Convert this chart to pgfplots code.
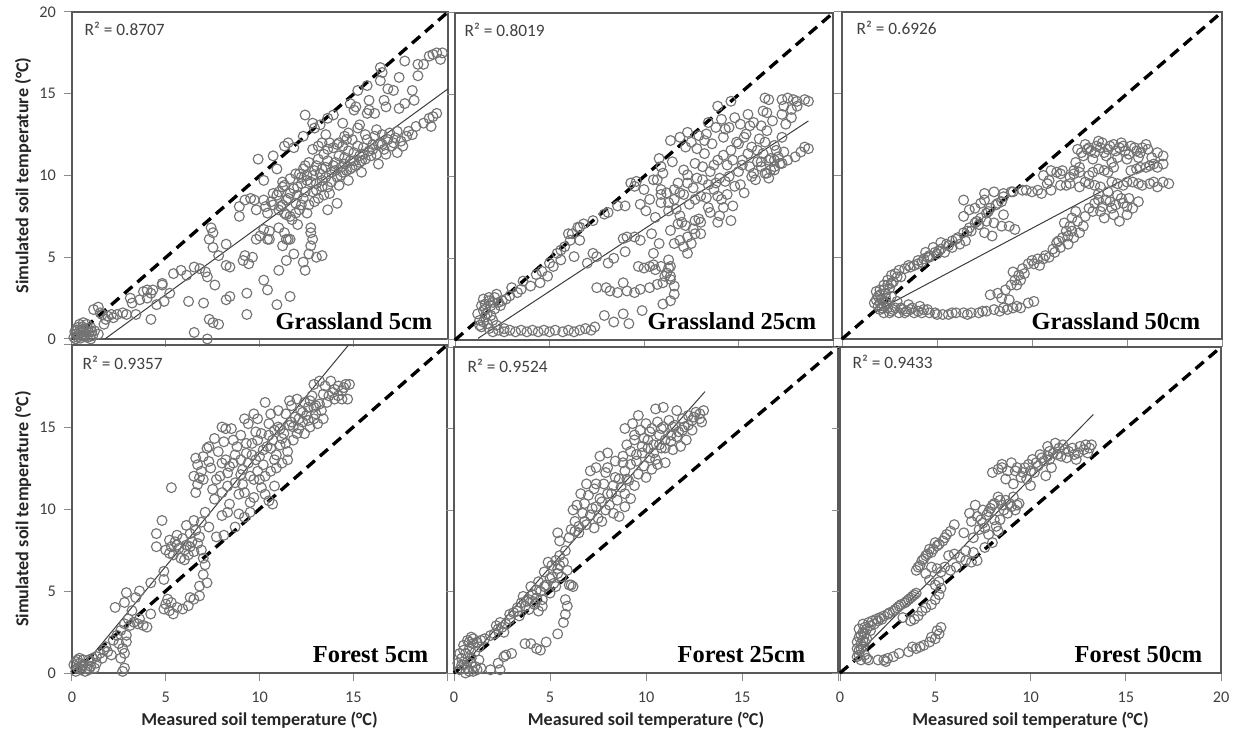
\documentclass[border=0pt]{standalone}
\usepackage{pgfplots}
\pgfplotsset{compat=1.18}
\usepackage{fontspec}
\setmainfont{Carlito}
\newfontfamily\tnr{Liberation Serif}

\definecolor{ptgray}{HTML}{737373}
\definecolor{framegray}{HTML}{595959}
\definecolor{tickgray}{HTML}{8C8C8C}
\definecolor{labgray}{HTML}{404040}
\definecolor{titlecol}{HTML}{262626}
\definecolor{fitcol}{HTML}{3C3C3C}

\tikzset{
  rsq/.style={anchor=base west, font=\fontsize{13}{15}\selectfont, text=labgray},
  site/.style={anchor=base east, font=\tnr\bfseries\fontsize{18.3}{20}\selectfont},
}

\pgfplotsset{
  panel/.style={
    scale only axis, anchor=north west,
    xmin=0, xmax=20, ymin=0, ymax=20,
    xtick={0,5,10,15,20}, ytick={0,5,10,15,20},
    xticklabels={}, yticklabels={},
    tick pos=left, tick align=outside,
    major tick length=6pt,
    every tick/.style={draw=tickgray, line width=0.75pt},
    axis line style={draw=framegray, line width=0.9pt},
    ticklabel style={font=\fontsize{12.2}{14}\selectfont, text=labgray},
    xticklabel style={yshift=-5pt},
    yticklabel style={xshift=-2.5pt},
    label style={font=\bfseries\fontsize{13.6}{16}\selectfont, text=titlecol},
    xlabel style={at={([yshift=-35.25pt]rel axis cs:0.5,0)}, anchor=center},
    ylabel style={at={([xshift=-36.75pt]rel axis cs:0,0.5)}, anchor=center},
    clip=false,
  },
  pts/.style={only marks, mark=o, mark size=3.7pt,
    mark options={draw=ptgray, line width=0.85pt}},
  oneone/.style={black, line width=2.5pt, dash pattern=on 8pt off 5pt},
  fit/.style={draw=fitcol, line width=0.75pt},
}

\begin{document}
\begin{tikzpicture}
\useasboundingbox (0pt,0pt) rectangle (932.25pt,-550.5pt);

% ---------------- Grassland 5cm ----------------
\begin{axis}[panel, at={(54pt,-9pt)}, width=282pt, height=245.25pt,
  yticklabels={0,5,10,15,20},
  ylabel={Simulated soil temperature (°C)}]
\addplot[pts] coordinates {
(0.1,0.1) (0.2,0.3) (0.3,0.1) (0.4,0.5) (0.5,0.2) (0.6,0.6) (0.7,0.3) (0.8,0.1) (0.9,0.4) (1.0,0.7)
(0.4,0.9) (0.6,1.0) (1.1,0.2) (1.2,0.5) (0.3,0.7) (0.8,0.9) (1.4,0.3) (0.2,0.0) (1.0,0.0) (0.5,0.4)
(0.15,0.45) (0.35,0.25) (0.55,0.75) (0.75,0.55) (0.95,0.15) (0.25,0.55) (0.65,0.15) (1.05,0.45) (0.45,0.05) (0.85,0.65)
(1.15,1.8) (1.4,1.95) (1.5,1.6) (1.6,1.5) (1.9,1.4) (2.1,1.5) (2.4,1.5) (2.7,1.6) (2.9,1.5) (1.8,1.2) (2.2,1.3) (1.7,0.9)
(3.1,2.5) (3.2,2.2) (3.4,1.5) (3.6,2.4) (3.8,2.9) (4.0,3.0) (4.2,2.8) (4.3,3.0) (4.0,2.5) (4.5,2.1) (4.8,3.3) (4.8,3.4) (4.9,2.3) (4.2,1.2) (5.2,2.8)
(5.4,4.0) (5.8,4.2) (6.1,3.9) (6.5,4.4) (6.8,4.3) (7.1,4.1) (7.2,3.8) (6.2,2.3) (7.0,2.2) (6.5,0.4) (7.2,0.0) (7.3,1.2) (7.5,1.0) (7.8,0.9) (7.6,3.3)
(7.4,6.8) (7.5,6.5) (7.3,6.1) (7.5,5.6) (7.8,5.1) (8.2,5.8) (8.2,4.5) (8.4,4.4) (8.2,2.4) (8.4,2.6) (9.3,2.8) (9.3,1.5) (9.2,5.1) (9.1,4.8) (9.4,4.6) (9.6,5.0)
(8.9,8.1) (8.9,7.5) (9.2,8.5) (9.5,8.6) (9.8,7.9) (9.7,8.5) (10.2,8.5) (10.3,8.1) (9.8,6.1) (10.0,6.3) (10.4,6.1) (10.2,6.7) (9.9,11.0) (10.2,9.7) (10.7,11.2) (10.9,10.4)
(10.2,3.6) (10.4,3.0) (10.9,2.1) (11.6,2.6) (11.0,4.2) (11.4,4.8) (11.5,6.1) (11.2,5.7) (11.0,6.8) (11.0,9.0) (11.2,9.6) (11.3,11.8) (11.5,12.0) (11.8,11.7)
(12.3,12.4) (12.4,13.7) (12.8,13.2) (12.9,12.9) (13.2,13.1) (13.6,13.5) (13.9,13.7) (13.5,12.5) (13.7,12.0) (14.1,11.9) (14.6,12.2)
(15.0,14.0) (15.1,14.2) (15.2,15.2) (14.8,14.4) (14.4,13.2) (15.3,13.1) (15.7,13.8) (15.8,14.6) (15.8,14.0) (16.1,13.8) (15.7,15.5) (16.4,16.6) (16.5,16.3) (16.4,15.8)
(16.8,15.3) (17.1,15.2) (17.4,16.0) (17.7,17.0) (18.1,15.2) (18.4,16.8) (18.4,16.1) (18.7,16.8) (19.0,17.3) (19.2,17.4) (19.6,17.1) (19.7,17.5) (19.4,17.5)
(18.2,14.6) (17.7,14.4) (17.4,14.1) (16.6,14.6) (16.7,14.2)
(17.1,12.0) (17.6,11.8) (17.8,12.4) (18.1,12.5) (18.3,13.0) (18.7,13.2) (19.0,13.5) (19.2,13.6) (19.4,13.8) (19.1,13.0) (17.9,12.7) (17.3,12.7)
(11.5,8.6) (11.8,9.2) (12.0,8.8) (12.2,9.5) (12.4,9.0) (12.5,10.0) (12.7,9.6) (12.9,10.3) (13.0,9.1) (13.2,10.1) (13.3,9.7) (13.5,10.5) (13.6,9.3) (13.8,10.2)
(14.0,10.8) (14.1,9.9) (14.3,10.5) (14.5,11.1) (14.6,10.3) (14.8,10.9) (15.0,11.4) (15.1,10.6) (15.3,11.2) (15.5,11.7) (15.6,11.0) (15.8,11.5) (16.0,11.9) (16.2,11.3)
(16.4,12.0) (16.6,11.6) (16.8,12.2) (17.0,11.8) (11.9,10.1) (12.3,10.4) (12.6,10.8) (13.1,11.0) (13.4,11.3) (12.1,7.9) (12.6,8.2) (13.1,8.6) (13.7,8.9) (14.2,9.4)
(14.7,9.7) (11.2,8.2) (11.4,7.6) (11.7,7.3) (12.0,7.0) (12.5,7.7) (11.0,7.9) (13.4,8.8) (15.4,10.2) (16.3,10.7) (17.3,11.4) (11.6,9.8) (13.9,11.7) (14.4,11.8)
(14.9,12.2) (12.8,11.6) (13.3,12.0) (10.9,8.8) (10.6,8.4) (11.3,9.4) (13.6,7.9) (14.1,8.3)
(12.2,9.9) (12.4,10.6) (12.8,10.0) (13.0,10.6) (13.3,10.4) (13.6,10.9) (13.9,10.6) (14.2,11.2) (14.4,10.2) (14.7,11.5) (14.9,10.5) (15.2,11.8) (15.4,10.9) (15.7,12.2)
(15.9,11.2) (16.1,12.4) (16.3,11.9) (16.5,12.5) (16.7,11.3) (16.9,12.6) (17.2,12.3) (17.5,12.1) (13.0,9.5) (13.5,9.9) (14.0,10.3) (14.5,10.7) (15.0,10.9) (15.5,11.3)
(16.0,11.6) (16.5,11.9) (12.0,9.3) (11.6,8.9) (11.9,8.3) (12.3,8.6) (12.8,9.0) (13.3,9.3) (13.8,9.6) (14.3,10.0) (14.8,10.4) (15.3,10.8) (13.6,11.6) (14.2,12.0)
(14.7,12.6) (15.2,12.9) (15.6,12.5) (16.2,12.8) (12.9,8.4) (12.2,8.2) (14.5,12.4) (13.1,11.8)
(12.4,4.2) (12.3,4.7) (12.6,5.2) (12.7,5.7) (13.0,5.0) (13.3,5.1) (12.8,6.1) (12.7,6.5) (12.7,6.8) (11.6,6.1) (11.8,5.2) (11.4,6.1) (11.3,6.5)
(10.7,8.9) (11.2,9.3) (11.4,8.5) (11.1,8.1) (11.3,7.7) (11.6,7.5) (11.9,7.7) (10.5,6.6) (10.5,6.1) (10.7,8.2) (10.4,7.7) (12.1,10.1) (12.5,9.7)
};
\addplot[fit] coordinates {(1.75,0) (20,15.3)};
\addplot[oneone] coordinates {(0,0) (20,20)};
\node[rsq] at ([xshift=6pt,yshift=-18pt]rel axis cs:0,1) {R² = 0.8707};
\node[site] at ([xshift=-8.25pt,yshift=6.75pt]rel axis cs:1,0) {Grassland 5cm};
\end{axis}

% ---------------- Grassland 25cm ----------------
\begin{axis}[panel, at={(341.25pt,-9.75pt)}, width=283.5pt, height=245.25pt]
\addplot[pts] coordinates {
(1.3,1.2) (1.5,1.8) (1.6,2.2) (1.8,2.4) (2.0,2.3) (1.4,0.8) (1.7,1.0) (1.9,1.5) (2.1,1.9) (2.3,2.3) (1.5,2.5) (1.8,2.6) (2.5,2.4) (2.7,2.5) (1.2,1.6) (2.2,2.8) (1.6,1.4) (1.4,2.1)
(1.6,1.9) (1.9,2.1) (1.7,1.6) (2.0,1.2) (1.5,1.1) (1.3,0.9) (2.4,2.1) (2.1,2.6)
(2.0,0.5) (2.3,0.6) (2.6,0.5) (2.9,0.6) (3.2,0.5) (3.5,0.6) (3.8,0.5) (4.1,0.6) (4.4,0.5) (4.7,0.6) (5.0,0.5) (5.3,0.6) (5.7,0.5) (6.0,0.6) (6.3,0.5) (6.6,0.6) (6.9,0.7) (7.2,0.6) (7.4,0.8) (1.8,0.7) (2.2,0.9) (2.6,0.7)
(7.9,1.5) (8.9,1.6) (8.4,1.1) (9.2,1.0) (9.9,1.8) (11.0,2.2) (11.4,2.4) (11.6,2.8) (11.6,3.3) (11.4,3.7) (11.2,4.1) (11.4,4.5) (11.3,4.9)
(7.5,3.2) (8.0,3.2) (8.6,2.9) (9.1,3.0) (9.5,2.9) (9.8,3.1) (10.3,3.2) (10.7,3.4) (11.0,3.5) (8.9,3.5) (8.2,3.0)
(9.7,4.5) (10.0,4.4) (10.3,4.5) (10.5,4.6) (10.6,4.3) (10.9,4.5) (11.1,3.9) (11.3,4.4) (11.4,3.9)
(5.0,4.7) (5.4,5.3) (5.8,5.7) (6.2,6.5) (6.6,6.9) (7.3,7.3) (7.9,7.7) (8.6,8.2) (5.2,4.5) (5.6,4.9) (6.1,6.1) (6.3,5.1) (7.0,4.7) (7.3,5.3) (7.5,5.1) (8.1,4.7) (8.4,5.0)
(9.0,5.4) (9.1,6.3) (9.5,6.3) (9.8,6.1) (10.4,6.5) (10.8,5.9) (10.5,5.3) (11.9,6.1) (12.3,6.3) (12.7,6.5) (13.0,6.5) (12.3,5.3) (11.6,5.9) (12.1,5.7) (12.5,5.9)
(3.5,3.1) (4.0,3.3) (4.5,3.5) (4.9,3.9) (3.6,3.6) (4.3,4.0) (3.3,2.9) (2.9,2.7) (3.0,3.2) (4.6,4.2)
(5.6,5.5) (6.0,6.5) (6.5,6.9) (6.8,7.1) (8.1,7.8) (9.0,8.2) (9.5,9.4) (10.0,9.2) (10.5,9.8) (10.9,10.6) (11.4,12.2) (11.9,12.4) (12.3,12.7) (13.4,13.3) (13.9,14.3) (14.6,14.6)
(10.6,7.5) (10.9,8.4) (11.2,9.0) (11.3,7.9) (11.6,8.6) (11.8,9.6) (11.9,7.6) (12.1,8.9) (12.3,10.1) (12.4,8.3) (12.6,9.3) (12.7,10.8) (12.9,7.4) (13.0,8.8) (13.1,9.8)
(13.2,11.4) (13.4,8.1) (13.5,10.3) (13.6,12.0) (13.7,9.2) (13.9,11.0) (14.0,7.6) (14.1,8.6) (14.2,12.4) (14.3,9.7) (14.4,10.7) (14.5,13.0) (14.6,11.6) (14.7,8.2)
(14.8,9.4) (14.9,12.1) (15.0,10.3) (15.1,13.2) (15.2,11.0) (15.3,9.0) (15.4,12.6) (15.6,10.6) (15.7,11.8) (15.8,13.3) (15.9,9.8) (16.0,10.9) (16.1,12.3) (16.3,11.4)
(16.4,10.2) (16.5,12.8) (16.6,9.9) (16.7,11.1) (16.9,10.6) (17.0,11.6) (17.2,10.8) (17.4,11.5) (13.3,12.6) (12.2,11.8) (12.5,12.1) (11.0,10.2) (10.8,11.1) (12.8,11.7)
(13.8,13.0) (14.1,13.5) (15.5,13.8) (16.2,13.1) (11.5,10.9) (10.3,8.6) (10.1,7.9) (9.8,8.3) (11.7,8.0) (12.0,7.2) (13.0,7.2) (12.6,6.8)
(12.8,9.9) (13.1,10.6) (13.4,9.5) (13.7,10.7) (14.0,9.9) (14.2,11.3) (14.5,10.0) (14.7,11.0) (15.0,12.0) (15.2,10.7) (15.5,11.4) (15.7,10.0) (16.0,11.6) (16.2,10.9)
(16.4,12.1) (16.7,10.4) (16.9,11.9) (17.1,11.2) (17.3,12.4) (13.3,8.7) (13.8,9.6) (14.4,8.9) (15.1,9.5) (12.3,9.6) (11.9,9.0) (12.7,8.6) (14.3,12.9) (14.8,13.6)
(15.3,12.4) (15.6,13.1) (13.2,12.2) (12.9,12.5) (17.5,13.2) (17.8,13.6) (16.8,13.4) (16.3,14.0) (11.3,8.4) (11.6,9.2) (12.1,10.4) (10.9,8.9)
(16.4,14.8) (16.6,14.7) (17.3,14.7) (17.6,14.8) (17.9,14.7) (18.1,14.6) (18.5,14.7) (18.7,14.6) (17.4,14.3) (17.8,14.1) (17.3,13.8) (18.1,14.3) (16.5,13.9)
(18.5,11.8) (18.7,11.7) (18.3,11.5) (18.0,11.2) (17.6,11.0) (17.3,10.8) (16.9,11.0) (16.6,11.0) (16.2,10.6) (15.8,10.2) (16.9,10.4) (16.5,10.2)
(10.7,9.8) (10.9,9.2) (9.3,9.6) (9.6,9.7) (11.4,6.7) (11.8,7.1) (12.2,7.0) (12.7,7.3) (13.5,7.8) (13.9,8.8) (14.2,8.1) (14.6,7.3) (13.9,7.2) (6.6,6.1) (8.9,6.2)
};
\addplot[fit] coordinates {(1.22,0.1) (18.7,13.4)};
\addplot[oneone] coordinates {(0,0) (20,20)};
\node[rsq] at ([xshift=3.75pt,yshift=-18pt]rel axis cs:0,1) {R² = 0.8019};
\node[site] at ([xshift=-9pt,yshift=7.5pt]rel axis cs:1,0) {Grassland 25cm};
\end{axis}

% ---------------- Grassland 50cm ----------------
\begin{axis}[panel, at={(631.5pt,-9pt)}, width=285pt, height=245.25pt]
\addplot[pts] coordinates {
(2.0,1.8) (2.2,1.6) (2.4,1.9) (2.6,1.7) (2.8,1.9) (3.0,1.6) (3.2,1.8) (3.4,1.7) (3.6,1.8) (3.8,1.6) (4.0,1.7) (4.3,1.8) (4.6,1.6) (4.9,1.6) (5.3,1.5) (5.6,1.5)
(6.0,1.6) (6.4,1.6) (6.8,1.6) (7.2,1.6) (7.6,1.7) (8.0,1.8) (8.3,1.7) (8.7,1.8) (9.0,1.9) (9.4,1.9) (9.8,2.2) (10.1,2.3) (3.5,2.1) (2.3,2.2) (4.1,2.0) (2.9,2.3)
(2.1,1.9) (2.5,1.6) (2.7,1.8) (3.1,1.9) (3.3,1.6) (3.7,1.9) (4.2,1.6) (4.5,1.8) (5.0,1.5) (5.8,1.6) (6.6,1.5) (7.4,1.7) (8.5,1.9) (9.2,2.0)
(1.7,2.2) (1.9,2.6) (2.0,3.0) (2.2,3.3) (2.4,3.6) (2.6,3.9) (2.8,4.0) (3.0,4.2) (1.8,2.9) (2.1,2.4) (2.5,3.1) (2.3,2.8) (2.7,3.5) (3.1,3.8) (1.9,2.0) (2.2,2.0) (2.6,2.6) (3.3,4.3) (3.5,4.5)
(2.0,2.7) (2.2,3.0) (2.4,3.3) (2.6,3.4) (2.9,3.8) (1.8,2.4) (2.0,2.2) (2.3,2.5)
(7.8,2.7) (8.2,2.8) (8.6,3.0) (8.9,3.3) (9.1,3.6) (9.3,3.9) (9.0,4.1) (9.5,4.3) (9.8,4.6) (10.0,4.8) (10.3,4.9) (10.6,4.9) (10.9,5.0) (11.2,5.3) (11.5,5.6) (11.3,5.9)
(11.6,6.2) (11.8,6.6) (12.0,6.9) (11.7,7.1) (12.1,7.4) (12.3,7.8) (12.5,6.5) (12.7,6.9) (12.2,6.2) (11.9,5.8) (8.4,2.5) (8.8,2.4) (9.6,4.0) (10.4,4.5) (12.4,7.2) (12.8,7.5)
(9.2,3.3) (9.4,3.6) (10.1,4.6) (10.7,5.1) (11.1,5.5) (11.4,6.0) (11.9,6.3) (12.1,6.6)
(13.0,8.0) (13.3,8.3) (13.6,7.8) (13.9,8.5) (14.2,8.0) (14.5,8.8) (14.8,8.3) (15.1,8.6) (13.5,8.9) (14.0,9.0) (15.3,8.0) (15.6,8.4) (14.3,7.6) (14.6,7.2) (13.8,7.4) (15.0,7.6)
(13.2,7.8) (13.5,8.5) (14.1,8.4) (14.4,8.2) (14.7,8.6) (15.0,8.1) (13.7,8.1)
(11.5,9.4) (12.0,9.5) (12.5,9.3) (13.0,9.5) (13.6,9.3) (14.2,9.6) (14.8,9.4) (15.3,9.6) (15.8,9.4) (16.2,9.5) (16.6,9.3) (16.9,9.6) (17.2,9.5)
(11.8,9.4) (12.8,9.6) (13.3,9.4) (14.5,9.5) (15.0,9.6) (15.6,9.5) (16.4,9.6)
(10.6,10.0) (11.0,10.3) (11.5,10.1) (12.0,9.9) (12.5,10.2) (13.0,10.0) (13.5,10.4) (14.0,10.2) (14.3,10.5) (15.2,10.3) (15.7,10.5) (16.2,10.6) (16.6,10.5) (16.9,10.7)
(11.3,10.2) (12.2,10.1) (13.2,10.2) (13.8,10.3) (15.5,10.4) (16.0,10.5) (16.4,10.7)
(7.5,8.9) (8.0,9.0) (8.5,8.9) (9.0,9.0) (9.5,9.1) (10.0,9.0) (10.5,8.9) (11.0,9.1) (10.8,9.5)
(12.4,11.6) (12.8,11.9) (13.1,11.5) (13.4,11.8) (13.7,12.0) (14.0,11.6) (14.3,11.9) (14.6,11.7) (14.9,11.5) (15.2,11.8) (15.5,11.5) (15.8,11.7) (16.1,11.6)
(12.6,11.4) (12.9,11.6) (13.3,11.4) (13.6,11.7) (13.8,11.4) (14.1,11.8) (14.4,11.5) (14.8,11.8) (15.1,11.3) (15.4,11.7) (15.7,11.4) (16.0,11.9) (13.5,12.1) (14.7,12.0)
(12.7,11.2) (13.2,11.0) (13.9,11.2) (14.5,11.1) (15.0,11.0) (15.6,11.1) (16.3,11.1) (14.2,10.8) (13.0,11.7) (12.3,10.8) (16.6,11.4) (16.9,11.2) (12.5,10.5)
(4.0,4.6) (4.3,4.9) (4.6,5.1) (4.9,5.3) (5.2,5.5) (5.5,5.8) (5.8,6.0) (6.1,6.2) (6.4,6.5) (6.7,6.8) (7.0,7.1) (7.3,7.4) (7.6,7.7) (7.8,8.0) (8.1,8.2) (8.4,8.4)
(4.5,5.0) (5.1,5.4) (5.6,5.7) (6.0,6.1) (6.6,6.6) (7.1,7.2) (7.7,7.8) (8.2,8.3)
(6.4,7.5) (6.7,7.9) (7.0,8.0) (7.3,8.3) (7.5,8.5) (6.4,8.5) (8.5,7.6)
(7.2,7.0) (7.6,7.2) (8.0,7.1) (8.4,6.9) (8.8,6.9) (9.1,6.7) (7.5,6.5) (7.9,6.3) (6.8,6.6)
(3.8,4.5) (4.2,4.7) (4.6,5.0) (5.0,5.2) (5.4,5.3) (5.8,5.6) (6.2,5.8) (6.5,6.0) (5.2,5.9) (4.8,5.6) (4.4,5.3) (3.6,4.4) (4.0,4.8)
(8.5,8.7) (8.9,9.0) (9.7,9.1) (10.3,9.1) (10.9,9.7) (11.6,10.3) (12.2,10.3)
};
\addplot[fit] coordinates {(1.63,1.6) (16.85,11.0)};
\addplot[oneone] coordinates {(0,0) (20,20)};
\node[rsq] at ([xshift=7.5pt,yshift=-17.25pt]rel axis cs:0,1) {R² = 0.6926};
\node[site] at ([xshift=-12.75pt,yshift=6.75pt]rel axis cs:1,0) {Grassland 50cm};
\end{axis}

% ---------------- Forest 5cm ----------------
\begin{axis}[panel, at={(54pt,-258.75pt)}, width=281.25pt, height=246pt,
  xticklabels={0,5,10,15,{}}, yticklabels={0,5,10,15,{}},
  xlabel={Measured soil temperature (°C)},
  ylabel={Simulated soil temperature (°C)}]
\addplot[pts] coordinates {
(0.1,0.5) (0.2,0.7) (0.3,0.3) (0.4,0.6) (0.5,0.2) (0.6,0.5) (0.8,0.3) (0.9,0.8) (1.0,0.4) (1.2,0.3) (0.2,0.1) (0.7,0.1) (0.4,0.9) (1.1,0.9) (1.3,0.6)
(0.3,0.8) (0.6,0.8) (0.9,0.2) (0.5,0.4) (1.0,0.7)
(1.3,1.0) (1.5,1.2) (1.7,1.4) (1.9,1.3) (2.1,1.1) (1.6,0.9) (1.8,1.6)
(2.2,2.0) (2.4,2.3) (2.6,2.6) (2.8,3.0) (3.0,3.3) (2.5,1.8) (2.7,1.5) (2.9,1.9) (2.8,1.2) (2.6,0.9) (2.9,2.3) (2.7,0.1) (2.8,0.3) (3.1,2.9) (3.3,3.1) (3.5,3.0) (3.8,2.9) (4.0,2.8) (3.6,3.3)
(2.3,4.0) (2.9,4.9) (3.4,4.6) (3.6,5.0) (2.8,4.3) (3.2,3.8) (4.2,3.6) (4.2,5.5) (4.5,7.7) (4.5,8.5) (4.8,9.3) (5.3,11.3) (4.9,6.2) (4.9,5.7)
(5.0,4.2) (5.2,3.8) (5.4,3.6) (5.1,4.5) (5.6,4.0) (5.9,3.9) (6.2,4.1) (6.5,4.5) (6.8,4.7) (6.3,4.6) (5.3,4.3) (4.9,3.9)
(6.8,5.3) (7.0,6.0) (7.1,6.6) (7.2,5.5)
(5.0,7.5) (5.3,7.7) (5.5,8.0) (5.7,7.6) (5.9,8.2) (6.1,7.8) (6.3,8.5) (6.5,7.4) (6.7,7.9) (6.9,7.5) (5.4,7.2) (5.8,7.0) (6.0,6.9) (6.4,8.0) (6.6,8.7) (5.2,8.1) (5.6,8.4) (6.2,7.2) (6.8,8.3) (7.0,7.0)
(5.2,7.3) (5.6,7.8) (6.0,7.5) (6.3,7.7)
(6.1,9.0) (6.5,9.3) (6.9,9.2) (7.1,9.8) (7.3,8.9)
(6.6,13.1) (6.7,12.7) (6.5,12.0) (6.7,11.5) (6.6,11.0) (6.9,12.3) (7.0,11.8) (7.2,13.7) (7.4,12.5) (7.5,11.2) (7.6,10.6) (7.8,13.5) (7.9,12.0) (8.0,11.0) (8.1,14.1)
(8.2,13.0) (8.3,12.2) (8.4,10.3) (8.5,14.9) (8.6,12.8) (8.7,11.6) (8.8,13.8) (8.9,10.9) (9.0,14.5) (9.1,12.4) (9.2,11.0) (9.3,13.4) (9.4,15.2) (9.5,12.0) (9.6,14.0)
(9.7,10.7) (9.8,13.0) (9.9,15.5) (10.0,11.8) (10.1,14.6) (10.2,12.7) (10.3,10.9) (10.4,13.8) (10.5,15.2) (10.6,12.3) (10.7,14.2) (10.8,11.4) (10.9,13.3) (11.0,15.0)
(11.1,13.9) (11.2,12.8) (11.3,14.6) (11.4,15.8) (11.5,13.5) (11.6,15.1) (11.7,16.3) (11.8,14.2) (11.9,15.6) (12.0,16.7) (12.1,14.9) (12.2,16.0) (12.3,15.3) (12.4,16.5)
(12.5,15.7) (12.6,16.2) (12.7,15.0) (12.8,16.9) (12.9,15.5) (13.0,16.3) (13.1,15.2) (8.0,9.6) (8.3,9.8) (8.7,8.9) (8.9,9.7) (9.2,9.5) (9.5,9.8) (7.7,8.3) (8.1,8.4)
(10.5,10.5) (10.7,10.3) (8.2,14.9) (7.6,14.3) (7.3,13.8) (9.2,15.5) (9.7,15.8) (10.3,16.5) (8.0,15.0) (9.0,13.0) (9.9,12.3) (10.8,14.8)
(8.4,12.6) (8.7,13.3) (9.0,12.1) (9.3,14.0) (9.6,13.3) (9.9,14.2) (10.2,13.6) (10.5,14.5) (10.8,13.0) (11.1,14.9) (11.4,14.0) (11.7,15.3) (12.0,14.6) (12.3,15.9)
(12.6,15.4) (12.9,16.2) (9.1,11.5) (9.4,12.8) (9.7,11.8) (10.0,13.2) (10.3,12.0) (10.6,13.7) (10.9,12.5) (11.2,14.3) (11.5,13.0) (11.8,15.0) (12.1,15.5) (12.4,14.6)
(12.7,16.6) (13.0,15.8) (7.7,11.8) (8.0,12.8) (8.3,11.4) (8.6,14.2) (9.5,10.4) (10.1,11.3) (9.8,14.7) (10.6,15.8) (11.0,16.0) (11.6,16.6) (7.3,12.9) (7.0,13.2) (6.8,11.9)
(13.2,17.8) (13.5,17.5) (13.8,17.8) (14.0,17.3) (14.2,17.5) (14.4,17.2) (14.6,17.6) (14.8,17.6) (13.7,16.9) (14.0,16.7) (14.4,16.7) (14.7,16.7) (13.4,17.0) (13.2,16.4) (13.4,15.5) (12.9,17.6)
(13.3,16.0) (13.6,16.5) (14.2,16.9) (14.5,17.4) (13.9,17.1)
};
\addplot[fit] coordinates {(0.3,0) (14.75,20)};
\addplot[oneone] coordinates {(0,0) (20,20)};
\node[rsq] at ([xshift=4.5pt,yshift=-18.75pt]rel axis cs:0,1) {R² = 0.9357};
\node[site] at ([xshift=-10.5pt,yshift=8.25pt]rel axis cs:1,0) {Forest 5cm};
\end{axis}

% ---------------- Forest 25cm ----------------
\begin{axis}[panel, at={(340.5pt,-260.25pt)}, width=288pt, height=244.5pt,
  xticklabels={0,5,10,15,{}},
  xlabel={Measured soil temperature (°C)}]
\addplot[pts] coordinates {
(0.3,0.2) (0.5,0.5) (0.7,0.3) (0.9,0.6) (1.1,0.4) (0.4,0.9) (0.6,1.2) (0.8,1.5) (1.0,1.8) (1.2,1.9) (1.4,2.0) (0.5,1.7) (0.7,2.0) (0.9,2.2) (1.1,1.3) (1.3,0.8)
(0.2,0.6) (0.8,0.1) (1.0,0.1) (1.2,0.2) (1.4,0.3) (0.6,0.0)
(0.3,1.2) (0.5,1.4) (0.8,1.9) (1.0,2.1) (1.3,1.6) (0.4,0.5) (0.7,0.7) (0.9,0.9)
(1.6,2.1) (1.9,2.3) (2.1,2.4) (2.3,2.7) (2.5,2.8) (2.7,3.0) (2.9,3.3) (2.2,2.9) (2.6,2.5) (2.4,3.1) (2.9,3.6) (3.3,3.8)
(1.9,0.2) (2.4,0.2) (2.3,0.6) (2.6,1.0) (2.7,1.1) (3.0,1.2) (3.7,1.8) (4.0,1.8) (4.3,1.5) (4.5,1.4) (4.8,1.9) (5.4,2.4) (5.7,3.1) (5.8,3.6) (5.9,4.1) (5.8,4.5)
(6.1,5.4) (6.2,5.3) (6.0,5.4) (5.3,5.3)
(3.1,3.7) (3.3,4.0) (3.5,4.3) (3.7,4.1) (3.9,4.5) (4.1,4.8) (4.3,4.6) (4.5,5.0) (4.2,4.2) (3.6,4.7) (4.0,5.3) (4.6,4.5) (4.8,5.4) (5.0,5.8) (4.7,6.2) (5.1,6.6)
(5.3,6.9) (5.5,6.6) (5.7,6.8) (4.9,6.8) (5.4,6.1) (5.2,5.5) (4.4,5.6) (3.9,3.9) (4.4,3.8) (5.0,4.9) (3.4,3.5) (4.6,4.1) (5.6,5.9) (5.9,6.3) (5.5,7.2) (5.8,7.5)
(6.0,8.3) (5.4,8.6) (5.5,8.1) (4.3,5.1) (4.7,5.3) (5.1,5.9) (5.4,6.4) (3.8,4.4) (4.1,4.4)
(6.1,8.8) (6.3,9.3) (6.5,8.6) (6.7,9.8) (6.8,10.4) (6.9,9.1) (7.0,10.9) (7.2,10.1) (7.3,11.3) (7.5,9.5) (7.6,10.7) (7.8,11.6) (7.9,10.0) (8.0,12.6) (8.2,11.0)
(8.3,9.8) (8.4,12.0) (8.5,10.6) (8.7,11.4) (8.8,12.9) (8.9,10.2) (9.0,11.9) (6.4,10.3) (6.6,11.0) (7.1,12.4) (7.4,12.6) (6.9,11.6) (7.7,9.3) (8.6,9.6) (9.2,10.7) (7.3,8.9) (6.2,10.0)
(8.6,11.9) (8.3,11.5) (8.0,11.0) (7.7,10.5) (7.4,10.2) (7.1,9.7) (6.8,9.3) (6.5,9.0) (6.3,8.7) (8.1,10.3) (8.9,11.0) (7.4,11.6) (7.9,12.3)
(8.8,13.3) (9.0,14.0) (9.2,12.8) (9.4,14.6) (9.5,13.4) (9.6,12.2) (9.7,14.9) (9.8,13.9) (9.9,12.7) (10.0,15.3) (10.1,14.3) (10.2,13.2) (10.3,15.0) (10.4,14.0)
(10.5,13.1) (10.6,15.4) (10.7,14.6) (10.8,13.8) (10.9,15.1) (11.0,14.3) (11.2,15.5) (11.3,14.6) (11.5,15.2) (11.7,14.8) (11.9,15.6) (12.0,15.1) (12.2,15.8)
(12.4,15.5) (12.6,16.0) (12.8,15.9) (13.0,16.1) (9.1,11.8) (9.4,11.5) (10.0,12.0) (10.3,12.5) (11.0,12.9) (11.4,13.7) (11.8,13.9) (12.1,14.3) (9.3,15.3)
(9.6,15.8) (10.5,16.2) (8.9,15.0) (11.6,16.1) (10.9,16.3) (8.0,13.5) (7.6,13.3) (8.4,13.0) (12.4,14.9) (12.9,15.4)
(9.8,13.5) (10.1,13.8) (10.4,13.5) (10.7,14.0) (11.0,13.8) (11.3,14.2) (11.6,14.5) (11.9,14.9) (12.2,15.2) (12.5,15.7) (12.8,15.6) (9.5,13.0) (9.2,13.6) (8.9,12.4)
(10.2,14.8) (10.8,15.0) (11.4,15.1) (9.9,14.4) (9.4,14.3) (10.6,12.8)
};
\addplot[fit] coordinates {(0.14,0) (13.07,17.26)};
\addplot[oneone] coordinates {(0,0) (20,20)};
\node[rsq] at ([xshift=6.75pt,yshift=-18.75pt]rel axis cs:0,1) {R² = 0.9524};
\node[site] at ([xshift=-21pt,yshift=8.25pt]rel axis cs:1,0) {Forest 25cm};
\end{axis}

% ---------------- Forest 50cm ----------------
\begin{axis}[panel, at={(630pt,-260.25pt)}, width=285.75pt, height=244.5pt,
  xticklabels={0,5,10,15,20},
  xlabel={Measured soil temperature (°C)}]
\addplot[pts] coordinates {
(0.9,1.0) (1.0,1.4) (1.1,1.8) (1.0,2.2) (1.2,2.5) (1.3,2.8) (1.5,3.1) (1.7,3.2) (1.9,3.3) (2.1,3.4) (1.1,0.8) (1.3,1.1) (1.4,0.9) (1.2,1.6) (0.9,1.9) (1.4,2.1)
(1.6,2.6) (1.0,2.7) (1.2,3.0) (1.5,0.8)
(1.0,1.1) (1.1,1.5) (1.2,2.0) (1.3,2.4) (1.4,2.7) (1.6,2.9) (1.8,3.0) (2.0,3.2) (2.2,3.3) (1.1,2.3) (0.9,1.5) (1.3,1.9)
(2.0,0.8) (2.3,0.8) (2.5,0.9) (2.8,1.0) (3.1,1.2) (3.6,1.3) (4.0,1.5) (4.4,1.7) (4.7,1.9) (5.0,2.1) (5.2,2.4) (5.3,2.8) (5.1,2.6) (4.8,2.2) (3.8,1.6) (4.2,1.6) (2.4,0.7)
(2.3,3.5) (2.6,3.7) (2.9,3.9) (3.1,4.1) (3.4,4.3) (3.6,4.5) (3.8,4.7) (4.0,4.9) (3.3,3.4) (3.7,3.2) (3.9,3.3) (4.1,3.5) (4.3,3.8) (4.5,4.0) (4.8,4.2) (5.0,4.5)
(2.5,3.6) (2.8,3.8) (3.0,4.0) (3.2,4.2) (3.5,4.4) (3.7,4.6) (3.9,4.8)
(5.2,4.8) (5.3,5.2) (5.2,5.6) (5.0,5.4) (4.7,5.7) (4.5,6.1)
(4.0,6.3) (4.2,6.6) (4.4,7.0) (4.6,7.3) (4.9,7.6) (5.2,7.9) (5.5,8.3) (5.8,8.7) (6.0,9.1) (4.3,6.9) (4.7,7.6) (5.0,8.0)
(4.5,7.2) (4.8,7.4) (5.1,7.8) (5.4,8.1) (5.6,8.5) (4.1,6.5)
(5.7,7.2) (6.0,7.3) (6.3,7.1) (6.6,6.9) (6.9,6.8) (7.2,6.9) (7.0,7.4) (6.6,7.5) (6.1,6.5) (5.5,6.5) (5.8,6.3) (5.1,6.4) (5.3,6.2) (4.8,6.5)
(7.0,8.3) (7.3,8.8) (7.5,9.2) (7.7,9.7) (7.9,10.1) (8.1,10.4) (8.3,10.8) (8.5,10.3) (8.7,10.6) (9.0,10.2) (9.2,10.0) (9.4,10.4) (7.2,9.6) (7.5,10.0) (7.8,8.5)
(8.2,9.0) (8.0,8.0) (7.6,7.7) (8.4,9.4) (8.8,9.8) (9.1,10.8) (6.8,9.8) (7.1,10.3) (6.5,8.6) (6.9,9.3)
(7.4,9.4) (7.8,9.9) (8.0,10.3) (8.4,10.6) (8.6,10.0) (8.9,10.4) (9.3,10.3) (7.6,8.9) (8.1,9.4) (8.3,8.7)
(8.0,12.3) (8.3,12.5) (8.5,12.8) (8.8,12.4) (9.0,12.9) (9.3,12.6) (9.6,12.3) (9.9,12.8) (10.1,13.1) (10.4,12.7) (10.7,13.0) (10.9,13.3) (11.2,13.5) (11.5,13.8)
(11.7,14.0) (12.0,13.6) (12.3,13.4) (12.6,13.9) (12.9,14.0) (13.2,14.0) (13.0,13.5) (12.4,13.1) (11.9,13.2) (11.3,14.1) (10.9,13.9) (10.5,13.4) (10.2,12.3)
(9.8,11.9) (10.8,12.1) (11.1,12.6) (10.0,11.5) (9.5,12.0) (8.7,11.9) (9.1,11.6)
(8.5,12.6) (9.2,12.4) (9.7,12.6) (10.3,12.9) (10.6,13.2) (11.0,13.1) (11.4,13.4) (11.8,13.7) (12.2,13.8) (12.5,13.5) (12.8,13.7) (13.1,13.8) (10.0,12.4) (11.0,13.6) (11.6,13.3)
};
\addplot[fit] coordinates {(0.96,1.2) (13.3,15.86)};
\addplot[oneone] coordinates {(0,0) (20,20)};
\node[rsq] at ([xshift=6pt,yshift=-15.75pt]rel axis cs:0,1) {R² = 0.9433};
\node[site] at ([xshift=-10.5pt,yshift=8.25pt]rel axis cs:1,0) {Forest 50cm};
\end{axis}
\end{tikzpicture}
\end{document}
